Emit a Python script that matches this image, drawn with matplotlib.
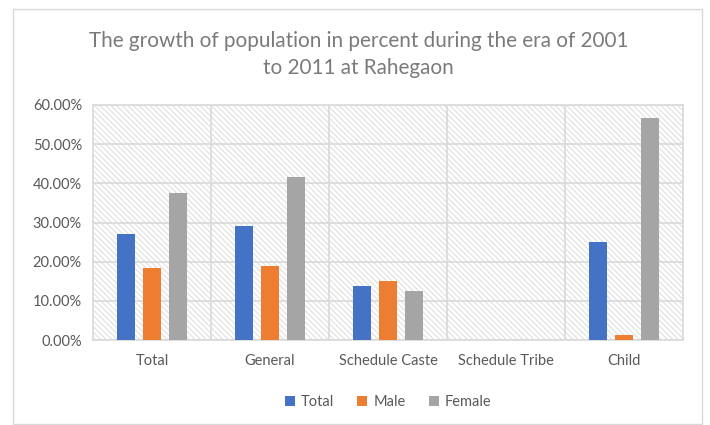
import matplotlib
matplotlib.use("Agg")
import matplotlib.pyplot as plt
from matplotlib.patches import Rectangle
from matplotlib.ticker import FuncFormatter, MultipleLocator
import numpy as np

categories = ["Total", "General", "Schedule Caste", "Schedule Tribe", "Child"]
series_names = ["Total", "Male", "Female"]
total_vals = [27.1, 29.2, 13.8, 0.0, 25.1]
male_vals = [18.4, 19.0, 15.1, 0.0, 1.2]
female_vals = [37.6, 41.7, 12.6, 0.0, 56.6]
colors = ["#4472C4", "#ED7D31", "#A5A5A5"]
title_lines = ["The growth of population in percent during the era of 2001",
               "to 2011 at Rahegaon"]

plt.rcParams['font.family'] = ['Lato', 'DejaVu Sans']
plt.rcParams['hatch.color'] = '#d9d9d9'
plt.rcParams['hatch.linewidth'] = 0.8

fig = plt.figure(figsize=(7.10, 4.25), dpi=100)
fig.patches.append(Rectangle((13/710, 1-424/425), (702-13)/710, (424-9)/425,
                             transform=fig.transFigure, fill=False,
                             edgecolor='#d9d9d9', linewidth=1.0))
ax = fig.add_axes([93/710, 1-340/425, 590/710, 235/425])

ax.add_patch(Rectangle((0, 0), 1, 1, transform=ax.transAxes, facecolor='white',
                       hatch='\\\\\\\\\\\\', edgecolor='#e0e0e0', linewidth=0, zorder=0))

x = np.arange(len(categories))
pitch = 0.22
width = 0.157
for i, (vals, name) in enumerate(zip([total_vals, male_vals, female_vals], series_names)):
    ax.bar(x + (i - 1) * pitch, vals, width=width, color=colors[i], label=name, zorder=3)

ax.set_xlim(-0.5, 4.5)
ax.set_ylim(0, 60)
ax.yaxis.set_major_locator(MultipleLocator(10))
ax.yaxis.set_major_formatter(FuncFormatter(lambda v, p: f"{v:.2f}%"))
ax.set_xticks(x)
ax.set_xticklabels(categories)
ax.set_xticks(np.arange(0.5, 4.5, 1), minor=True)
ax.grid(axis='y', which='major', color='#d9d9d9', linewidth=1.2, zorder=1)
ax.grid(axis='x', which='minor', color='#d9d9d9', linewidth=1.2, zorder=1)
ax.set_axisbelow(True)
for s in ax.spines.values():
    s.set_color('#d9d9d9')
    s.set_linewidth(1.2)
ax.tick_params(which='both', length=0, labelsize=10.5, colors='#595959', pad=8)
ax.tick_params(axis='x', pad=10)

fig.text(358.5/710, 1-47/425, title_lines[0], ha='center', va='baseline',
         fontsize=14.9, color='#7a7a7a')
fig.text(358.5/710, 1-73.5/425, title_lines[1], ha='center', va='baseline',
         fontsize=14.9, color='#7a7a7a')

ax.legend(loc='center', bbox_to_anchor=(0.5, -0.265), ncol=3, frameon=False,
          fontsize=10.5, labelcolor='#595959', handlelength=0.7, handleheight=0.7,
          columnspacing=1.6, handletextpad=0.4)

fig.savefig("out.png", dpi=100)
